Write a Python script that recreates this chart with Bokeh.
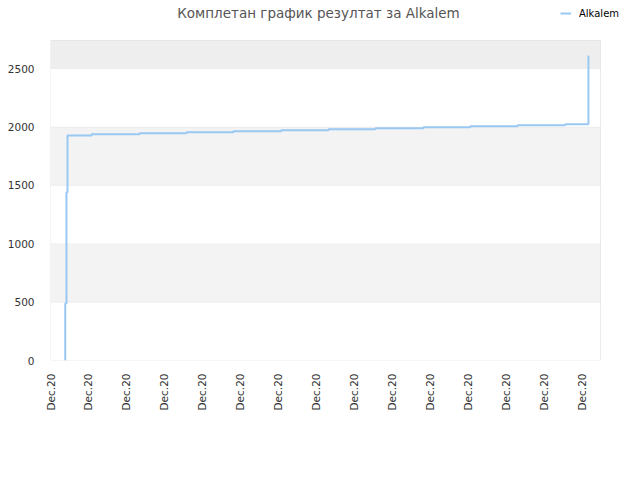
from bokeh.plotting import figure
from bokeh.models import (BoxAnnotation, Label, Legend, LegendItem, FixedTicker,
                          Range1d, ColumnDataSource)
from bokeh.embed import file_html
from bokeh.resources import INLINE
from math import pi

# ---- data (x in hours from the first tick) ----
title_text = "Комплетан график резултат за Alkalem"
series_name = "Alkalem"
step_x = [1.55, 1.55, 1.68, 1.79, 4.32, 9.37, 14.32, 19.26, 24.3, 29.26,
          34.2, 39.26, 44.2, 49.16, 54.2, 56.63]
step_y = [0, 488, 1441, 1926, 1937, 1946, 1955, 1963, 1972, 1980,
          1989, 1998, 2006, 2014, 2023, 2611]
x_ticks = [0, 4, 8, 12, 16, 20, 24, 28, 32, 36, 40, 44, 48, 52, 56]
x_tick_labels = ["Dec.20"] * len(x_ticks)
y_ticks = [0, 500, 1000, 1500, 2000, 2500]
x_max = 57.9
y_max = 2740

# the frame also holds the title/legend strip above and to the right of the chart box
frame_w, frame_h = 580, 360
box_w, box_h = 550, 320
view_x = x_max * frame_w / box_w
view_y = y_max * frame_h / box_h

p = figure(width=632, height=464, frame_width=frame_w, frame_height=frame_h,
           output_backend="svg", toolbar_location=None,
           min_border_left=50, min_border_top=0, min_border_right=2,
           min_border_bottom=104,
           x_range=Range1d(0, view_x), y_range=Range1d(0, view_y))
p.background_fill_color = "white"
p.border_fill_color = "white"
p.outline_line_color = None
p.xgrid.grid_line_color = None
p.ygrid.grid_line_color = None

# bands with grid lines as their edges
band_lo = [0, 500, 1000, 1500, 2000, 2500]
band_hi = [500, 1000, 1500, 2000, 2500, y_max]
band_col = ["#ffffff", "#f3f3f3", "#ffffff", "#f3f3f3", "#ffffff", "#eeeeee"]
for lo, hi, col in zip(band_lo, band_hi, band_col):
    p.add_layout(BoxAnnotation(left=0, right=x_max, bottom=lo, top=hi,
                               fill_color=col, fill_alpha=1,
                               line_color="#e2e2e2", line_width=1,
                               level="underlay"))

src = ColumnDataSource(dict(x=step_x, y=step_y))
r = p.step("x", "y", source=src, mode="after", line_color="#99c8f3",
           line_width=2)

p.add_layout(BoxAnnotation(left=0, right=x_max, bottom=0, top=y_max,
                           fill_alpha=0, line_color="#d4d4d4", line_width=1,
                           level="annotation"))

# axes
p.xaxis.ticker = FixedTicker(ticks=x_ticks)
p.xaxis.major_label_overrides = {t: l for t, l in zip(x_ticks, x_tick_labels)}
p.xaxis.major_label_orientation = pi / 2
p.yaxis.ticker = FixedTicker(ticks=y_ticks)
for ax in (p.xaxis[0], p.yaxis[0]):
    ax.axis_line_color = None
    ax.major_tick_line_color = None
    ax.minor_tick_line_color = None
    ax.major_label_text_font = "DejaVu Sans"
    ax.major_label_text_font_size = "10.5px"
    ax.major_label_text_color = "#333333"
p.xaxis.major_label_standoff = 7
p.yaxis.major_label_standoff = 10

# title
p.add_layout(Label(x=268, y=348, x_units="screen", y_units="screen",
                   text=title_text, text_font="DejaVu Sans",
                   text_font_size="13.5px", text_color="#555555",
                   text_align="center", text_baseline="middle"))

legend = Legend(items=[LegendItem(label=series_name, renderers=[r])],
                location=(510, 341), orientation="horizontal",
                padding=0, margin=0, spacing=0, glyph_width=11,
                glyph_height=12, label_height=12, label_standoff=8,
                label_text_font="DejaVu Sans", label_text_font_size="10px",
                label_text_color="#000000", border_line_color=None,
                background_fill_alpha=0)
p.add_layout(legend, "center")

open("out.html", "w").write(file_html(p, INLINE))
